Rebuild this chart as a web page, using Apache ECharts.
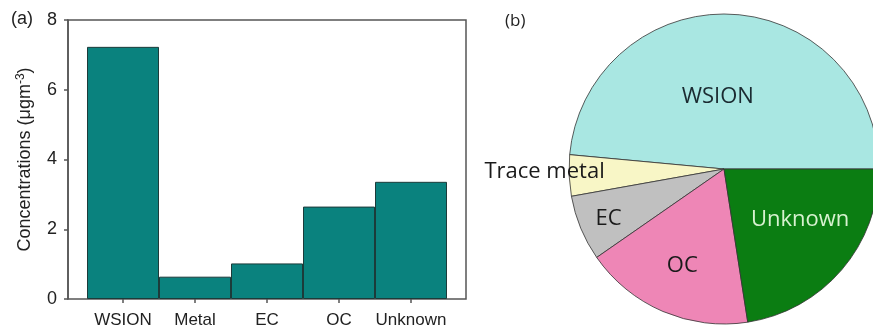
<!DOCTYPE html>
<html>
<head>
<meta charset="utf-8">
<script src="https://cdn.jsdelivr.net/npm/echarts@6/dist/echarts.min.js"></script>
<style>html,body{margin:0;padding:0;background:#fff}#c{width:873px;height:327px}</style>
</head>
<body>
<div id="c"></div>
<script>
var barCategories = ['WSION', 'Metal', 'EC', 'OC', 'Unknown'];
var barValues = [7.23, 0.64, 1.02, 2.65, 3.36];
var yTicks = [0, 2, 4, 6, 8];
var pieNames = ['WSION', 'Trace metal', 'EC', 'OC', 'Unknown'];
var pieValues = [7.23, 0.64, 1.02, 2.65, 3.36];
var pieColors = ['#a9e7e2', '#f8f6c6', '#c0c0c0', '#ee86b6', '#0b7d12'];
var pieLabelColors = ['#1a2a30', '#1a1a1a', '#1a1a1a', '#1a1a1a', '#d8f2d0'];
var pieLabelShift = [[-10, 8], [-99, -1], [-41, 19], [-10, 23], [15, -2]];

var chart = echarts.init(document.getElementById('c'));
var axisColor = '#555';
var font = 'Liberation Sans, Arial, sans-serif';
chart.setOption({
  animation: false,
  graphic: [
    { type: 'text', left: 11, top: 10, style: { text: '(a)', font: '18px Liberation Sans', fill: '#222' } },
    { type: 'text', left: 505, top: 13, style: { text: '(b)', font: '17px Open Sans', fill: '#222' } }
  ],
  grid: [
    { left: 68, top: 20, width: 398, height: 279, outerBoundsMode: 'none', containLabel: false,
      show: true, borderColor: axisColor, borderWidth: 1.5, backgroundColor: 'transparent' },
    { left: 87, top: 20, width: 360, height: 279, outerBoundsMode: 'none', containLabel: false }
  ],
  xAxis: [
    { gridIndex: 0, type: 'value', show: false, min: 0, max: 1 },
    { gridIndex: 1, type: 'category', data: barCategories,
      axisLine: { show: false },
      axisTick: { show: true, alignWithLabel: true, interval: 0, length: 4, lineStyle: { color: axisColor, width: 1.5 } },
      axisLabel: { interval: 0, hideOverlap: false, margin: 13, fontSize: 17, fontFamily: font, color: '#222' } }
  ],
  yAxis: [
    { gridIndex: 0, type: 'value', min: 0, max: 8, interval: 2,
      splitLine: { show: false },
      axisLine: { show: true, lineStyle: { color: axisColor, width: 1.5 } },
      axisTick: { show: true, length: 4, lineStyle: { color: axisColor, width: 1.5 } },
      axisLabel: { margin: 11, fontSize: 18, fontFamily: font, color: '#222',
        customValues: yTicks },
      name: '{a|Concentrations (μgm}{s|-3}{a|)}',
      nameLocation: 'middle', nameGap: 33,
      nameTextStyle: { rich: {
        a: { fontSize: 18, fontFamily: font, color: '#222' },
        s: { fontSize: 12, fontFamily: font, color: '#222', verticalAlign: 'top', padding: [0, 0, 8, 0] }
      } } },
    { gridIndex: 1, type: 'value', min: 0, max: 8, show: false }
  ],
  series: [
    { type: 'bar', xAxisIndex: 1, yAxisIndex: 1, data: barValues, barCategoryGap: '0%',
      itemStyle: { color: '#0a827e', borderColor: '#1c3b3a', borderWidth: 1 } },
    { type: 'pie', center: [724, 169], radius: 155, startAngle: 0, clockwise: false,
      data: pieNames.map(function (n, i) {
        return { name: n, value: pieValues[i], itemStyle: { color: pieColors[i] },
          label: { color: pieLabelColors[i] } };
      }),
      itemStyle: { borderColor: '#333', borderWidth: 0.8 },
      label: { show: true, position: 'inside', fontSize: 22, fontFamily: 'Open Sans', formatter: '{b}' },
      labelLine: { show: false },
      labelLayout: function (p) {
        var s = pieLabelShift[p.dataIndex];
        return { dx: s[0], dy: s[1] };
      },
      emphasis: { disabled: true }
    }
  ]
});
</script>
</body>
</html>
